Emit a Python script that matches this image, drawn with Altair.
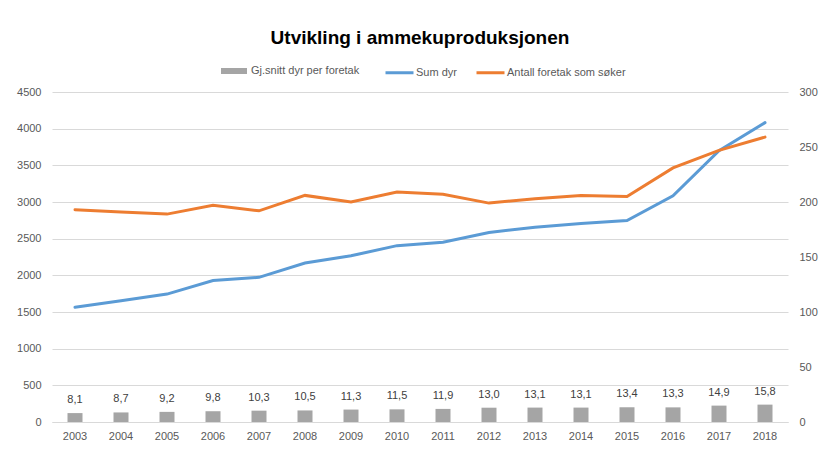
import altair as alt
import pandas as pd

years = [str(y) for y in range(2003, 2019)]
sum_dyr = [1565, 1654, 1744, 1929, 1973, 2167, 2266, 2405, 2450, 2585, 2657, 2706, 2747, 3084, 3700, 4082]
foretak = [193, 191, 189, 197, 192, 206, 200, 209, 207, 199, 203, 206, 205, 231, 247, 259]
snitt = [8.1, 8.7, 9.2, 9.8, 10.3, 10.5, 11.3, 11.5, 11.9, 13.0, 13.1, 13.1, 13.4, 13.3, 14.9, 15.8]

S_BAR = "Gj.snitt dyr per foretak"
S_SUM = "Sum dyr"
S_FOR = "Antall foretak som søker"

df = pd.DataFrame({
    "year": years,
    "sum_dyr": sum_dyr,
    "foretak": foretak,
    "snitt": snitt,
    "label": [f"{v:.1f}".replace(".", ",") for v in snitt],
    "s_bar": S_BAR,
    "s_sum": S_SUM,
    "s_for": S_FOR,
})

FONT = "Liberation Sans"
GRID = "#D9D9D9"
TXT = "#595959"

x_enc = alt.X("year:N", title=None,
              scale=alt.Scale(paddingInner=0, paddingOuter=0),
              axis=alt.Axis(labelAngle=0, ticks=False, domain=True, domainColor=GRID,
                            labelPadding=8, labelColor=TXT, labelFontSize=11, labelFont=FONT))

left_axis = alt.Axis(values=list(range(0, 4501, 500)), orient="left", ticks=False, domain=False,
                     grid=True, gridColor=GRID, labelPadding=11, labelColor=TXT, format="d",
                     labelFontSize=11, labelFont=FONT, title=None)
right_axis = alt.Axis(values=list(range(0, 301, 50)), orient="right", ticks=False, domain=False,
                      grid=False, labelPadding=11, labelColor=TXT, format="d",
                      labelFontSize=11, labelFont=FONT, title=None)

color_scale = alt.Scale(domain=[S_SUM, S_FOR], range=["#5B9BD5", "#ED7D31"])
line_legend = alt.Legend(title=None, orient="none", direction="horizontal",
                         legendX=332, legendY=-35, symbolType="stroke", symbolSize=784,
                         symbolStrokeWidth=3, labelOffset=1, columnPadding=13,
                         labelFont=FONT, labelFontSize=11, labelColor=TXT)

blue = alt.Chart(df).mark_line(strokeWidth=3, strokeCap="round").encode(
    x=x_enc,
    y=alt.Y("sum_dyr:Q", scale=alt.Scale(domain=[0, 4500], nice=False), axis=left_axis),
    color=alt.Color("s_sum:N", scale=color_scale, legend=line_legend),
)

y_right = alt.Y("foretak:Q", scale=alt.Scale(domain=[0, 300], nice=False), axis=right_axis)

bars = alt.Chart(df).mark_bar(size=15).encode(
    x=x_enc,
    y=alt.Y("snitt:Q", scale=alt.Scale(domain=[0, 300], nice=False), axis=right_axis),
    fill=alt.Fill("s_bar:N", scale=alt.Scale(domain=[S_BAR], range=["#A5A5A5"]),
                  legend=alt.Legend(title=None, orient="none", legendX=168, legendY=-35,
                                    symbolType="M-1,-0.23H1V0.23H-1Z", symbolSize=676,
                                    labelOffset=3, labelFont=FONT, labelFontSize=11,
                                    labelColor=TXT)),
)

labels = alt.Chart(df).mark_text(baseline="bottom", dy=-8, fontSize=11, font=FONT,
                                 color="#404040").encode(
    x=x_enc,
    y=alt.Y("snitt:Q", scale=alt.Scale(domain=[0, 300], nice=False), axis=right_axis),
    text="label:N",
)

orange = alt.Chart(df).mark_line(strokeWidth=3, strokeCap="round").encode(
    x=x_enc,
    y=y_right,
    color=alt.Color("s_for:N", scale=color_scale, legend=line_legend),
)

right = alt.layer(bars, labels, orange)

chart = alt.layer(blue, right).resolve_scale(y="independent").properties(
    width=736, height=330,
    autosize=alt.AutoSizeParams(type="none"),
    padding={"left": 44, "top": 84, "right": 31, "bottom": 22},
    title=alt.TitleParams("Utvikling i ammekuproduksjonen", fontSize=19, font=FONT,
                          fontWeight="bold", color="#000000", anchor="middle", offset=9),
).configure_view(stroke=None)

chart.save("out.html", embed_options={"renderer": "svg", "actions": False})
